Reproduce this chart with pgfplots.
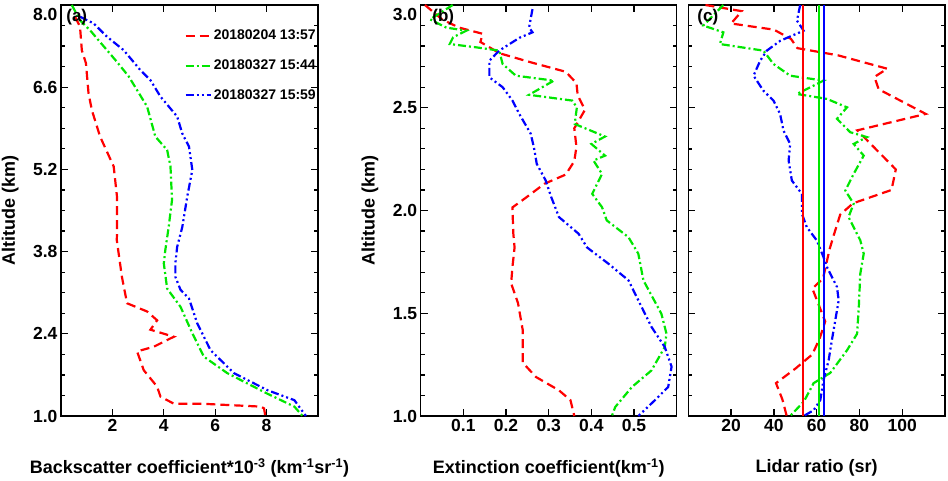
\documentclass[border=0pt]{standalone}
\usepackage{fontspec}
\setmainfont{Liberation Sans}
\usepackage{pgfplots}
\pgfplotsset{compat=1.18}
\definecolor{pgreen}{RGB}{0,230,0}
\pgfplotsset{
  myaxis/.style={
    scale only axis, height=411pt,
    xmin=0, ymin=1,
    tick align=inside,
    major tick length=7pt, minor tick length=4pt,
    axis line style={line width=1.4pt},
    every tick/.style={line width=1.3pt, black},
    /pgf/number format/assume math mode=true,
    tick label style={font=\bfseries\fontsize{17.5}{17.5}\selectfont},
    label style={font=\bfseries\fontsize{18}{18}\selectfont},
    yticklabel style={/pgf/number format/.cd, fixed, fixed zerofill, precision=1},
    ylabel style={at={(axis description cs:-0.198,0.5)}, anchor=center},
    xlabel style={at={(axis description cs:0.5,-0.127)}, anchor=center},
    clip=true,
  },
  rd/.style={red, line width=2.2pt, dash pattern=on 9pt off 5pt},
  gd/.style={pgreen, line width=2.2pt, dash pattern=on 8pt off 3pt on 2pt off 3pt},
  bd/.style={blue, line width=2.2pt, dash pattern=on 8pt off 3pt on 2pt off 3pt on 2pt off 3pt},
}
\begin{document}
\begin{tikzpicture}
\useasboundingbox (0,0) rectangle (948pt,480pt);
% ---------------- (a)
\begin{axis}[myaxis, at={(61pt,64pt)}, anchor=south west, width=257pt,
  xmax=10, ymax=8,
  xtick={2,4,6,8}, ytick={1.0,2.4,3.8,5.2,6.6,8.0}, minor y tick num=3,
  yticklabels={1.0,2.4,3.8,5.2,6.6,\raisebox{-16pt}[0pt][0pt]{8.0}},
  xlabel={Backscatter coefficient*10\textsuperscript{-3} (km\textsuperscript{-1}sr\textsuperscript{-1})},
  ylabel={Altitude (km)},
  legend style={at={(rel axis cs:1,1)}, anchor=north east, draw=none, fill=none,
    inner sep=0pt, yshift=-23pt, row sep=14.5pt,
    font=\bfseries\fontsize{14}{14}\selectfont,
    /tikz/every even column/.append style={column sep=0pt}},
  legend cell align=left,
  legend image code/.code={\draw[#1] (0pt,0pt) -- (25pt,0pt);},
]
\addplot[rd] coordinates {
(0.55,7.80)(0.74,7.63)(0.81,7.23)(0.97,7.01)(1.07,6.50)(1.20,6.21)(1.52,5.76)
(2.05,5.25)(2.18,4.73)(2.18,4.11)(2.17,4.00)(2.37,3.37)(2.57,2.92)(3.35,2.78)
(3.74,2.63)(3.48,2.47)(4.39,2.35)(3.61,2.18)(2.96,2.10)(3.22,1.78)(3.74,1.50)
(3.87,1.33)(4.39,1.21)(5.43,1.21)(7.77,1.16)(7.90,1.13)(7.95,1.00)};
\addplot[gd] coordinates {
(0.42,8.00)(0.74,7.74)(1.13,7.57)(1.79,7.23)(2.18,7.03)(2.64,6.78)(2.96,6.55)
(3.35,6.27)(3.67,5.76)(4.13,5.53)(4.26,5.25)(4.32,4.68)(4.19,4.22)(4.06,3.83)
(4.00,3.60)(4.13,3.17)(4.65,2.86)(5.11,2.41)(5.56,2.01)(6.47,1.73)(8.03,1.38)
(9.08,1.16)(9.40,1.00)};
\addplot[bd] coordinates {
(0.74,7.80)(1.26,7.69)(1.79,7.46)(2.44,7.23)(3.09,6.89)(3.48,6.72)(3.87,6.44)
(4.52,6.10)(4.72,5.81)(4.98,5.59)(5.11,5.19)(4.91,4.73)(4.72,4.22)(4.52,3.88)
(4.45,3.60)(4.45,3.37)(4.65,3.15)(4.98,3.00)(5.30,2.58)(5.82,2.12)(6.73,1.73)
(8.03,1.44)(9.08,1.27)(9.53,1.00)};
\legend{20180204 13:57,20180327 15:44,20180327 15:59}
\node[anchor=north west, font=\bfseries\fontsize{17}{17}\selectfont, inner sep=0pt]
  at (rel axis cs:0.02,0.99) {(a)};
\end{axis}
% ---------------- (b)
\begin{axis}[myaxis, at={(420.7pt,64pt)}, anchor=south west, width=256pt,
  xmax=0.6, ymax=3,
  xtick={0.1,0.2,0.3,0.4,0.5}, ytick={1.0,1.5,2.0,2.5,3.0}, minor y tick num=4,
  yticklabels={1.0,1.5,2.0,2.5,\raisebox{-16pt}[0pt][0pt]{3.0}},
  xticklabel style={/pgf/number format/.cd, fixed, precision=1},
  xlabel={Extinction coefficient(km\textsuperscript{-1})},
  ylabel={Altitude (km)},
]
\addplot[rd] coordinates {
(0.01,3.00)(0.05,2.93)(0.09,2.89)(0.145,2.86)(0.14,2.82)(0.185,2.765)(0.26,2.72)
(0.34,2.675)(0.365,2.62)(0.368,2.56)(0.385,2.49)(0.36,2.40)(0.365,2.31)(0.36,2.24)
(0.34,2.175)(0.29,2.13)(0.245,2.06)(0.215,2.015)(0.217,1.89)(0.22,1.82)(0.215,1.725)
(0.212,1.645)(0.228,1.55)(0.239,1.42)(0.239,1.26)(0.27,1.19)(0.324,1.125)
(0.351,1.077)(0.36,1.00)};
\addplot[gd] coordinates {
(0.075,3.00)(0.022,2.93)(0.06,2.89)(0.107,2.875)(0.076,2.843)(0.068,2.81)(0.13,2.794)
(0.184,2.778)(0.192,2.713)(0.223,2.656)(0.312,2.632)(0.254,2.563)(0.355,2.535)
(0.366,2.502)(0.361,2.421)(0.432,2.36)(0.40,2.324)(0.432,2.267)(0.405,2.243)
(0.425,2.178)(0.402,2.081)(0.425,2.016)(0.436,1.952)(0.487,1.87)(0.510,1.79)
(0.522,1.66)(0.564,1.498)(0.576,1.401)(0.572,1.336)(0.541,1.222)(0.495,1.141)
(0.456,1.044)(0.448,1.00)};
\addplot[bd] coordinates {
(0.262,2.98)(0.254,2.891)(0.262,2.867)(0.231,2.84)(0.184,2.778)(0.161,2.729)
(0.161,2.648)(0.192,2.60)(0.215,2.535)(0.231,2.47)(0.258,2.373)(0.266,2.30)
(0.272,2.227)(0.293,2.146)(0.306,2.065)(0.324,1.968)(0.37,1.887)(0.39,1.82)
(0.440,1.741)(0.487,1.66)(0.510,1.563)(0.541,1.433)(0.572,1.336)(0.588,1.24)
(0.580,1.141)(0.549,1.077)(0.510,1.00)};
\node[anchor=north west, font=\bfseries\fontsize{17}{17}\selectfont, inner sep=0pt]
  at (rel axis cs:0.045,0.99) {(b)};
\end{axis}
% ---------------- (c)
\begin{axis}[myaxis, at={(688.3pt,64pt)}, anchor=south west, width=256.7pt,
  xmax=120, ymax=3,
  xtick={20,40,60,80,100}, ytick={1.0,1.5,2.0,2.5,3.0}, minor y tick num=4,
  yticklabels={},
  xlabel={Lidar ratio (sr)},
]
\addplot[rd] coordinates {
(8,3.00)(25,2.97)(20,2.91)(40,2.88)(48,2.835)(51,2.79)(70,2.755)(93,2.69)(87,2.65)
(89,2.59)(111,2.47)(79,2.39)(97,2.20)(95,2.10)(77,2.035)(71,1.98)(68,1.88)(66,1.81)
(63,1.67)(58,1.62)(64,1.46)(61.5,1.38)(58,1.30)(50,1.23)(41,1.16)(44,1.08)(46,1.00)};
\addplot[gd] coordinates {
(16.4,3.00)(7.0,2.90)(16.4,2.867)(14.8,2.81)(35.1,2.778)(39.8,2.713)(47.6,2.656)
(63.2,2.632)(50.8,2.567)(64.8,2.543)(74.2,2.502)(69.5,2.446)(75.7,2.381)(83.5,2.357)
(77.3,2.324)(82,2.267)(77.3,2.178)(73.4,2.097)(77.3,2.033)(74.9,1.968)(80.4,1.855)
(82,1.79)(80.4,1.692)(79.7,1.53)(78.9,1.40)(74.2,1.32)(66.4,1.21)(58.6,1.16)
(54,1.07)(47.6,1.00)};
\addplot[bd] coordinates {
(52.3,3.00)(50.8,2.924)(53.9,2.875)(43.0,2.826)(36.7,2.778)(33.6,2.729)(30.5,2.656)
(35.1,2.583)(39.8,2.535)(42.9,2.47)(44.5,2.389)(47.6,2.324)(46.9,2.243)(48.4,2.146)
(53.1,2.081)(53.1,1.984)(55.4,1.919)(60.1,1.854)(63.2,1.773)(64.8,1.725)(69.5,1.628)
(70.3,1.563)(68.7,1.465)(67.1,1.368)(65.6,1.271)(63.2,1.174)(61.7,1.077)(58.6,1.028)
(53.9,1.00)};
\addplot[red, line width=2pt] coordinates {(53.4,1)(53.4,3)};
\addplot[pgreen, line width=2pt] coordinates {(61.1,1)(61.1,3)};
\addplot[blue, line width=2pt] coordinates {(63.4,1)(63.4,3)};
\node[anchor=north west, font=\bfseries\fontsize{17}{17}\selectfont, inner sep=0pt]
  at (rel axis cs:0.035,0.99) {(c)};
\end{axis}
\end{tikzpicture}
\end{document}
